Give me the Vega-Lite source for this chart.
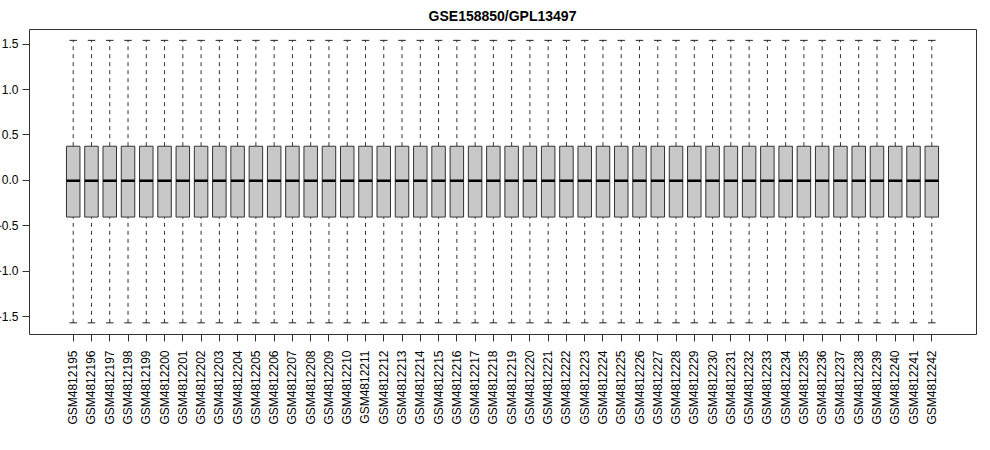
{
  "$schema": "https://vega.github.io/schema/vega-lite/v6.json",
  "width": 947,
  "height": 305,
  "autosize": {"type": "none"},
  "padding": {"left": 29, "top": 29, "right": 14, "bottom": 116},
  "background": "white",
  "title": {"text": "GSE158850/GPL13497", "font": "Liberation Sans", "fontSize": 14, "fontWeight": "bold", "color": "black", "anchor": "middle", "baseline": "alphabetic", "offset": 9, "dy": 15},
  "config": {
    "view": {"stroke": "#333333", "strokeWidth": 1},
    "axis": {"labelFont": "Liberation Sans", "labelFontSize": 12, "labelColor": "black", "tickColor": "#333333", "grid": false, "domain": false, "title": null, "tickSize": 7}
  },
  "data": {"values": [
    {"sample": "GSM4812195", "lower": -1.575, "q1": -0.41, "median": -0.01, "q3": 0.37, "upper": 1.536},
    {"sample": "GSM4812196", "lower": -1.575, "q1": -0.41, "median": -0.01, "q3": 0.37, "upper": 1.536},
    {"sample": "GSM4812197", "lower": -1.575, "q1": -0.41, "median": -0.01, "q3": 0.37, "upper": 1.536},
    {"sample": "GSM4812198", "lower": -1.575, "q1": -0.41, "median": -0.01, "q3": 0.37, "upper": 1.536},
    {"sample": "GSM4812199", "lower": -1.575, "q1": -0.41, "median": -0.01, "q3": 0.37, "upper": 1.536},
    {"sample": "GSM4812200", "lower": -1.575, "q1": -0.41, "median": -0.01, "q3": 0.37, "upper": 1.536},
    {"sample": "GSM4812201", "lower": -1.575, "q1": -0.41, "median": -0.01, "q3": 0.37, "upper": 1.536},
    {"sample": "GSM4812202", "lower": -1.575, "q1": -0.41, "median": -0.01, "q3": 0.37, "upper": 1.536},
    {"sample": "GSM4812203", "lower": -1.575, "q1": -0.41, "median": -0.01, "q3": 0.37, "upper": 1.536},
    {"sample": "GSM4812204", "lower": -1.575, "q1": -0.41, "median": -0.01, "q3": 0.37, "upper": 1.536},
    {"sample": "GSM4812205", "lower": -1.575, "q1": -0.41, "median": -0.01, "q3": 0.37, "upper": 1.536},
    {"sample": "GSM4812206", "lower": -1.575, "q1": -0.41, "median": -0.01, "q3": 0.37, "upper": 1.536},
    {"sample": "GSM4812207", "lower": -1.575, "q1": -0.41, "median": -0.01, "q3": 0.37, "upper": 1.536},
    {"sample": "GSM4812208", "lower": -1.575, "q1": -0.41, "median": -0.01, "q3": 0.37, "upper": 1.536},
    {"sample": "GSM4812209", "lower": -1.575, "q1": -0.41, "median": -0.01, "q3": 0.37, "upper": 1.536},
    {"sample": "GSM4812210", "lower": -1.575, "q1": -0.41, "median": -0.01, "q3": 0.37, "upper": 1.536},
    {"sample": "GSM4812211", "lower": -1.575, "q1": -0.41, "median": -0.01, "q3": 0.37, "upper": 1.536},
    {"sample": "GSM4812212", "lower": -1.575, "q1": -0.41, "median": -0.01, "q3": 0.37, "upper": 1.536},
    {"sample": "GSM4812213", "lower": -1.575, "q1": -0.41, "median": -0.01, "q3": 0.37, "upper": 1.536},
    {"sample": "GSM4812214", "lower": -1.575, "q1": -0.41, "median": -0.01, "q3": 0.37, "upper": 1.536},
    {"sample": "GSM4812215", "lower": -1.575, "q1": -0.41, "median": -0.01, "q3": 0.37, "upper": 1.536},
    {"sample": "GSM4812216", "lower": -1.575, "q1": -0.41, "median": -0.01, "q3": 0.37, "upper": 1.536},
    {"sample": "GSM4812217", "lower": -1.575, "q1": -0.41, "median": -0.01, "q3": 0.37, "upper": 1.536},
    {"sample": "GSM4812218", "lower": -1.575, "q1": -0.41, "median": -0.01, "q3": 0.37, "upper": 1.536},
    {"sample": "GSM4812219", "lower": -1.575, "q1": -0.41, "median": -0.01, "q3": 0.37, "upper": 1.536},
    {"sample": "GSM4812220", "lower": -1.575, "q1": -0.41, "median": -0.01, "q3": 0.37, "upper": 1.536},
    {"sample": "GSM4812221", "lower": -1.575, "q1": -0.41, "median": -0.01, "q3": 0.37, "upper": 1.536},
    {"sample": "GSM4812222", "lower": -1.575, "q1": -0.41, "median": -0.01, "q3": 0.37, "upper": 1.536},
    {"sample": "GSM4812223", "lower": -1.575, "q1": -0.41, "median": -0.01, "q3": 0.37, "upper": 1.536},
    {"sample": "GSM4812224", "lower": -1.575, "q1": -0.41, "median": -0.01, "q3": 0.37, "upper": 1.536},
    {"sample": "GSM4812225", "lower": -1.575, "q1": -0.41, "median": -0.01, "q3": 0.37, "upper": 1.536},
    {"sample": "GSM4812226", "lower": -1.575, "q1": -0.41, "median": -0.01, "q3": 0.37, "upper": 1.536},
    {"sample": "GSM4812227", "lower": -1.575, "q1": -0.41, "median": -0.01, "q3": 0.37, "upper": 1.536},
    {"sample": "GSM4812228", "lower": -1.575, "q1": -0.41, "median": -0.01, "q3": 0.37, "upper": 1.536},
    {"sample": "GSM4812229", "lower": -1.575, "q1": -0.41, "median": -0.01, "q3": 0.37, "upper": 1.536},
    {"sample": "GSM4812230", "lower": -1.575, "q1": -0.41, "median": -0.01, "q3": 0.37, "upper": 1.536},
    {"sample": "GSM4812231", "lower": -1.575, "q1": -0.41, "median": -0.01, "q3": 0.37, "upper": 1.536},
    {"sample": "GSM4812232", "lower": -1.575, "q1": -0.41, "median": -0.01, "q3": 0.37, "upper": 1.536},
    {"sample": "GSM4812233", "lower": -1.575, "q1": -0.41, "median": -0.01, "q3": 0.37, "upper": 1.536},
    {"sample": "GSM4812234", "lower": -1.575, "q1": -0.41, "median": -0.01, "q3": 0.37, "upper": 1.536},
    {"sample": "GSM4812235", "lower": -1.575, "q1": -0.41, "median": -0.01, "q3": 0.37, "upper": 1.536},
    {"sample": "GSM4812236", "lower": -1.575, "q1": -0.41, "median": -0.01, "q3": 0.37, "upper": 1.536},
    {"sample": "GSM4812237", "lower": -1.575, "q1": -0.41, "median": -0.01, "q3": 0.37, "upper": 1.536},
    {"sample": "GSM4812238", "lower": -1.575, "q1": -0.41, "median": -0.01, "q3": 0.37, "upper": 1.536},
    {"sample": "GSM4812239", "lower": -1.575, "q1": -0.41, "median": -0.01, "q3": 0.37, "upper": 1.536},
    {"sample": "GSM4812240", "lower": -1.575, "q1": -0.41, "median": -0.01, "q3": 0.37, "upper": 1.536},
    {"sample": "GSM4812241", "lower": -1.575, "q1": -0.41, "median": -0.01, "q3": 0.37, "upper": 1.536},
    {"sample": "GSM4812242", "lower": -1.575, "q1": -0.41, "median": -0.01, "q3": 0.37, "upper": 1.536}
  ]},
  "encoding": {
    "x": {
      "field": "sample", "type": "nominal", "sort": null,
      "scale": {"type": "band", "paddingInner": 0, "paddingOuter": 0, "range": [35.08, 911.92]},
      "axis": {"labelAngle": -90, "labelAlign": "right", "labelBaseline": "middle", "labelPadding": 9}
    }
  },
  "layer": [
    {
      "mark": {"type": "rule", "strokeDash": [4, 4], "stroke": "#333333", "strokeWidth": 1},
      "encoding": {
        "y": {"field": "lower", "type": "quantitative", "scale": {"domain": [-1.698, 1.661], "nice": false, "zero": false},
          "axis": {"values": [-1.5, -1, -0.5, 0, 0.5, 1, 1.5], "format": ".1f", "labelPadding": 4}},
        "y2": {"field": "q1"}
      }
    },
    {
      "mark": {"type": "rule", "strokeDash": [4, 4], "stroke": "#333333", "strokeWidth": 1},
      "encoding": {"y": {"field": "q3", "type": "quantitative"}, "y2": {"field": "upper"}}
    },
    {
      "mark": {"type": "tick", "color": "#222222", "size": 7.5, "thickness": 1, "opacity": 1},
      "encoding": {"y": {"field": "lower", "type": "quantitative"}}
    },
    {
      "mark": {"type": "tick", "color": "#222222", "size": 7.5, "thickness": 1, "opacity": 1},
      "encoding": {"y": {"field": "upper", "type": "quantitative"}}
    },
    {
      "mark": {"type": "bar", "size": 13.5, "fill": "#c8c8c8", "stroke": "#333333", "strokeWidth": 1},
      "encoding": {"y": {"field": "q1", "type": "quantitative"}, "y2": {"field": "q3"}}
    },
    {
      "mark": {"type": "tick", "color": "black", "size": 13.5, "thickness": 2.5, "opacity": 1},
      "encoding": {"y": {"field": "median", "type": "quantitative"}}
    }
  ]
}
